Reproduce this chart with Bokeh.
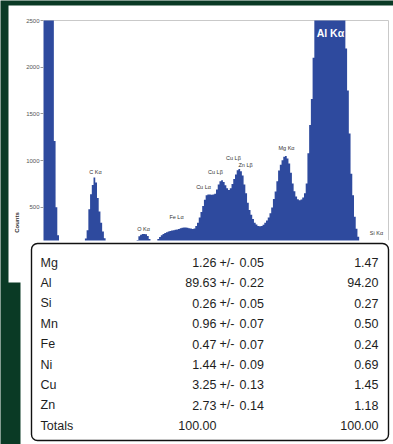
import numpy as np
from bokeh.plotting import figure
from bokeh.models import Range1d, LinearAxis, FixedTicker
from bokeh.core.properties import value
from bokeh.embed import file_html
from bokeh.resources import INLINE

# ---------------- data ----------------
bin_width_kev = 0.009
counts = [4000, 5000, 5500, 5200, 4500, 3200, 1210, 500, 200, 100,
          75, 65, 60, 58, 55, 55, 55, 56, 58, 60,
          62, 66, 75, 105, 165, 255, 480, 640, 740, 820,
          765, 600, 455, 335, 240, 168, 110, 90, 80, 75,
          72, 70, 70, 70, 72, 74, 76, 78, 80, 82,
          84, 86, 90, 100, 150, 190, 207, 213, 215, 211,
          192, 160, 125, 115, 112, 140, 160, 182, 200, 213,
          224, 233, 240, 246, 251, 255, 259, 262, 268, 275,
          280, 283, 283, 281, 277, 272, 267, 274, 300, 335,
          390, 450, 515, 580, 630, 638, 638, 635, 637, 645,
          690, 745, 780, 790, 772, 735, 705, 685, 705, 750,
          803, 850, 897, 910, 885, 840, 745, 650, 550, 470,
          420, 375, 335, 315, 300, 298, 301, 313, 335, 360,
          392, 435, 497, 590, 670, 780, 895, 955, 1003, 1042,
          1050, 1022, 968, 870, 755, 672, 615, 585, 576, 584,
          605, 650, 755, 1080, 1380, 1660, 2100, 2700, 3200, 3700,
          4200, 4600, 5000, 5300, 5500, 5600, 5600, 5500, 5300, 5000,
          4600, 4200, 3700, 3200, 2700, 2200, 1750, 1290, 860, 630,
          400, 270, 185, 128, 88, 65, 60, 60, 62, 78,
          105, 128, 135, 128, 100, 70, 58, 52, 50, 48]
y_max = 2500
y_ticks = [500, 1000, 1500, 2000, 2500]

peak_labels = ["C K\u03b1", "O K\u03b1", "Fe L\u03b1", "Cu L\u03b1", "Cu L\u03b2",
               "Cu L\u03b2", "Zn L\u03b2", "Mg K\u03b1", "Si K\u03b1"]
peak_label_kev = [0.271, 0.522, 0.694, 0.835, 0.897, 0.991, 1.054, 1.268, 1.737]
peak_label_counts = [873, 273, 401, 712, 883, 1033, 958, 1130, 230]
main_label = "Al K\u03b1"
main_label_kev = 1.497
main_label_counts = 2361

elements = ["Mg", "Al", "Si", "Mn", "Fe", "Ni", "Cu", "Zn"]
wt_pct = [1.26, 89.63, 0.26, 0.96, 0.47, 1.44, 3.25, 2.73]
wt_err = [0.05, 0.22, 0.05, 0.07, 0.07, 0.09, 0.13, 0.14]
at_pct = [1.47, 94.20, 0.27, 0.50, 0.24, 0.69, 1.45, 1.18]
total_label = "Totals"
total_wt = 100.00
total_at = 100.00

# ---------------- layout / style ----------------
W, H = 393, 444
GREEN = "#0a3a25"
BLUE = "#2e4a9e"
X0_PX, X1_PX = 43, 388        # spectrum horizontal extent (canvas px)
Y0_PX, YT_PX = 253.5, 20      # px of 0 counts and of y_max

n = len(counts)
e_max = n * bin_width_kev
sx = (X1_PX - X0_PX) / e_max
sy = (Y0_PX - YT_PX) / y_max

p = figure(width=W, height=H, output_backend="svg", toolbar_location=None,
           x_range=Range1d(-X0_PX / sx, (W - X0_PX) / sx),
           y_range=Range1d(-(H - Y0_PX) / sy, y_max + YT_PX / sy),
           x_axis_type=None, y_axis_type=None, min_border=0,
           outline_line_color=None, background_fill_color=GREEN,
           border_fill_color=GREEN)
p.extra_x_ranges = {"px": Range1d(0, W)}
p.extra_y_ranges = {"px": Range1d(H, 0)}
PX = dict(x_range_name="px", y_range_name="px")

# white panel behind the spectrum
p.quad(left=[8], right=[W], top=[5], bottom=[282], fill_color="white",
       line_color=None, **PX)
# light frame lines
p.line(x=[X0_PX, X1_PX, X1_PX], y=[YT_PX, YT_PX, 240], line_color="#c9c9c9",
       line_width=1, **PX)

# spectrum as one stepped area (clipped at the top of the axis)
top = np.minimum(np.array(counts, float), y_max)
edges = np.arange(n + 1) * bin_width_kev
stair_x = np.concatenate([[edges[0]], np.repeat(edges, 2)[1:-1], [edges[-1]]])
stair_y = np.concatenate([[0.0], np.repeat(top, 2), [0.0]])
p.patch(stair_x, stair_y, fill_color=BLUE, line_color=None)

# peak labels
p.text(x=peak_label_kev, y=peak_label_counts, text=peak_labels,
       text_font=value("Liberation Sans"), text_font_size="5.5px",
       text_align="center", text_baseline="middle", text_color="#333333")
p.text(x=[main_label_kev], y=[main_label_counts], text=[main_label],
       text_font=value("Liberation Sans"), text_font_size="10.5px",
       text_font_style="bold", text_align="center", text_baseline="middle",
       text_color="white")

# y axis
yaxis = LinearAxis(fixed_location=0, ticker=FixedTicker(ticks=y_ticks),
                   axis_label="Counts", axis_line_color=None,
                   major_tick_in=0, major_tick_out=3,
                   major_tick_line_color="#999999", minor_tick_line_color=None,
                   major_label_text_font_size="6px",
                   major_label_text_color="#555555",
                   major_label_text_font="Liberation Sans",
                   major_label_standoff=1,
                   axis_label_text_font_size="6px",
                   axis_label_text_font_style="bold",
                   axis_label_text_font="Liberation Sans",
                   axis_label_text_color="#333333", axis_label_standoff=3)
p.add_layout(yaxis, "left")

# table panel and box
p.quad(left=[20], right=[W], top=[240], bottom=[H], fill_color="white",
       line_color=None, **PX)
p.quad(left=[31], right=[388], top=[243], bottom=[440], fill_color="white",
       line_color="#111111", line_width=1.4, border_radius=6, **PX)

row_y0, row_dy = 262, 20.4
nrow = len(elements) + 1
rows_y = [row_y0 + row_dy * i for i in range(nrow)]
TXT = dict(text_font=value("Liberation Sans"), text_font_size="12.5px",
           text_baseline="middle", text_color="#1e1e1e", **PX)

p.text(x=[40] * nrow, y=rows_y, text=elements + [total_label],
       text_align="left", **TXT)
p.text(x=[216] * nrow, y=rows_y,
       text=[f"{v:.2f}" for v in wt_pct] + [f"{total_wt:.2f}"],
       text_align="right", **TXT)
p.text(x=[219] * len(elements), y=rows_y[:-1], text=["+/-"] * len(elements),
       text_align="left", **TXT)
p.text(x=[239] * len(elements), y=rows_y[:-1],
       text=[f"{v:.2f}" for v in wt_err], text_align="left", **TXT)
p.text(x=[378] * nrow, y=rows_y,
       text=[f"{v:.2f}" for v in at_pct] + [f"{total_at:.2f}"],
       text_align="right", **TXT)

open("out.html", "w").write(file_html(p, INLINE))
